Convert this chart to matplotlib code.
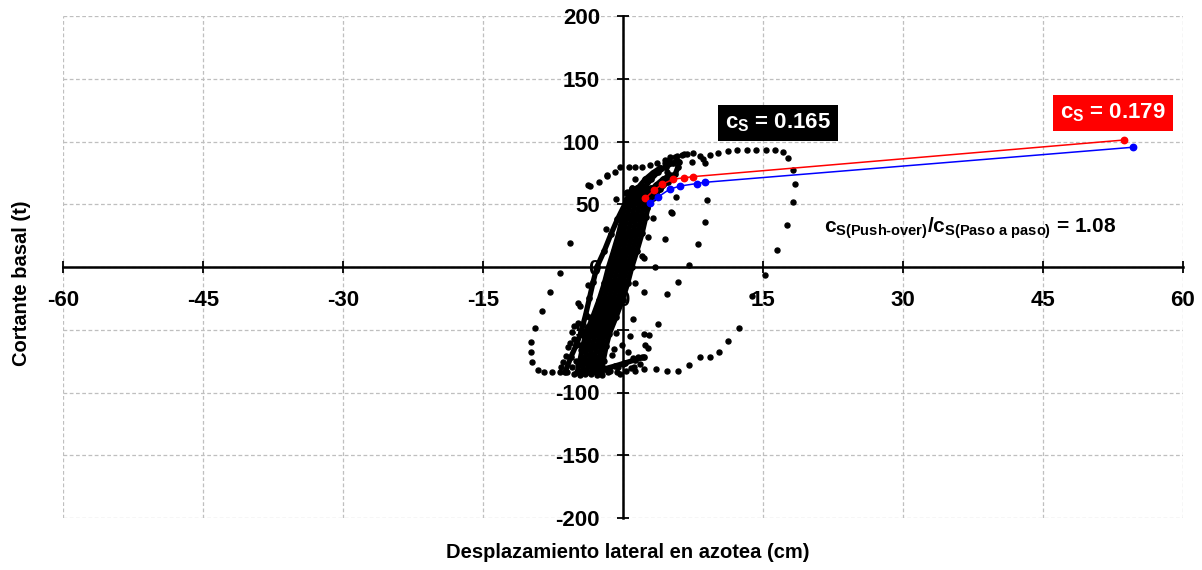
import matplotlib
matplotlib.use("Agg")
import matplotlib.pyplot as plt

plt.rcParams["font.family"] = ["Liberation Sans", "DejaVu Sans"]
plt.rcParams["axes.unicode_minus"] = False
plt.rcParams["mathtext.fontset"] = "custom"
plt.rcParams["mathtext.rm"] = "Liberation Sans:bold"
plt.rcParams["mathtext.it"] = "Liberation Sans:bold"
plt.rcParams["mathtext.bf"] = "Liberation Sans:bold"

# sparse dots of the step-by-step response (cm, t)
outer_x = [-9.1, -8.5, -7.6, -6.8, -9.7, -9.9, -9.9, -9.4, -8.7, -7.8, -6.7, -5.7,
           -3.5, -2.6, -1.75, -0.9, -0.3, 0.6, 1.3, 2.0, 2.9, 3.6, 4.5, 5.0, 5.75,
           6.5, 7.5, 8.25, 8.6, 9.3, 10.2, 11.3, 12.25, 13.3, 14.3, 15.3, 16.3,
           17.1, 17.7, 18.2, 18.4, 18.2, 17.6, 16.5, 15.2, 13.8, 12.4, 11.25,
           10.3, 9.3, 8.25, 7.1, 5.9, 4.7, 3.5, 2.25, 1.2]
outer_y = [-82, -83.7, -84, -84, -76, -67.5, -59.5, -49, -35, -19.7, -5, 18.9,
           64.5, 68, 72.5, 76, 79.4, 79.4, 80, 80, 81.3, 82.6, 85, 87.4, 88.4,
           90, 90.6, 88.4, 85.8, 89, 91, 92.4, 93.5, 93.5, 93.5, 93.5, 93,
           91.4, 86.6, 77.3, 66, 51.5, 33.7, 13.5, -6.4, -23, -48.6, -58.7,
           -68, -72, -72, -78, -83, -82.6, -81, -81, -80]

inner_x = [9.0, 8.75, 8.0, 7.07, 5.9, 4.7, 3.7, 2.8, 2.4, 1.64,
           5.7, 5.2, 4.5, 3.4, 2.25, 1.1,
           8.8, 7.4, 6.9, 6.3, 5.6, 4.9, 4.5, 4.1, 4.7, 5.4,
           -0.7, 0.3, 1.3, 2.7, 2.0, 3.25, 2.2, 0.4, 1.3, -1.85, -1.75, -3.7,
           2.7, 2.0, 0.86, 0.15, 5.1]
inner_y = [53, 36, 18, 1.6, -11.7, -21.5, -45.4, -54, -62, -72,
           56, 43.3, 22, 0.3, -20, -41.7,
           82.6, 84, 90, 89, 88, 85, 82.6, 78.6, 76, 73.3,
           54, 59.2, 70, 24, 8.8, 38.8, 7, 59.5, -13, 30, 73, 65,
           -64.8, -71.5, -80.2, -76.8, 44]

low_x = [-4.07, -2.8, -1.4, 0.0, 1.1, 1.3, -0.14, 2.2, -0.7, -5.7, -6.1, -6.6,
         -6.0, -5.2, -4.6, -3.7, 0.5, -0.5, -3.2, -4.5, -2.0, -1.0, 1.8, 0.8,
         -5.0, -3.5, -5.5, -5.0, -4.6, -4.2, -3.9, -3.6, -4.8, -5.5, -3.0,
         -2.3, -1.2, -0.6, -5.2, -4.6, -3.4, -2.2, -1.6, -0.3, 0.3, -4.8,
         -4.8, -6.4, -5.9, -5.3]
low_y = [-85.5, -86, -83, -77, -72.8, -83, -62, -53.6, -52.8, -60.8, -70.7,
         -79.4, -84, -46.7, -30.8, -14.3, -68, -80, -78, -66, -75, -65, -77,
         -55, -75, -70, -52, -58, -62, -55, -48, -40, -78, -80, -82, -79, -70,
         -84, -85, -86, -85, -86, -84, -85, -83, -29, -45, -76, -64, -57]

# dense core of small cycles, traced as paths
stripe_x = [-6.2, -5.6, -5.0, -4.5, -4.0, -3.6, -3.2, -2.8, -2.0, -1.3, -0.6, 0.2]
stripe_y = [-84, -72, -62, -52, -38, -25, -12, 0, 13, 26, 38, 50]
band_y = [-84, -74, -63, -53, -40, -26, -13, 0, 13, 27, 40, 53, 63]
band_a = [-4.9, -4.6, -4.3, -3.95, -3.25, -2.55, -2.0, -1.55, -1.0, -0.45, -0.05, 0.35, 1.0]
band_b = [-4.4, -4.1, -3.8, -3.45, -2.75, -2.05, -1.5, -1.05, -0.5, 0.05, 0.45, 0.85, 1.5]
band_c = [-3.9, -3.6, -3.3, -2.95, -2.25, -1.55, -1.0, -0.55, 0.0, 0.55, 0.95, 1.35, 2.0]
band_d = [-3.4, -3.1, -2.8, -2.45, -1.75, -1.05, -0.5, -0.05, 0.5, 1.05, 1.45, 1.85, 2.5]
band_e = [-2.9, -2.6, -2.3, -1.95, -1.25, -0.55, 0.0, 0.45, 1.0, 1.55, 1.95, 2.35, 3.0]
band_f = [-2.4, -2.1, -1.8, -1.45, -0.75, -0.05, 0.5, 0.95, 1.5, 2.05, 2.45, 2.85, 3.5]
top1_x = [1.65, 2.3, 3.0, 3.8, 4.6, 5.4, 6.0]
top1_y = [53, 63, 70, 76, 80, 83, 84]
top2_x = [2.2, 2.8, 3.5, 4.3, 5.0]
top2_y = [53, 60, 65, 70, 73]
top3_x = [1.0, 1.6, 2.4, 3.2, 4.0]
top3_y = [55, 63, 70, 75, 79]
top4_x = [5.9, 5.6, 4.8, 4.0, 3.2, 2.6]
top4_y = [80, 74, 68, 62, 55, 47]
foot_x = [-1.9, -0.9, 0.2, 1.3, 2.2]
foot_y = [-81, -79, -76.5, -74, -72]

core_x = [stripe_x, band_a, band_b, band_c, band_d, band_e, band_f,
          top1_x, top2_x, top3_x, top4_x, foot_x]
core_y = [stripe_y, band_y, band_y, band_y, band_y, band_y, band_y,
          top1_y, top2_y, top3_y, top4_y, foot_y]

# push-over curves
red_x = [2.4, 3.3, 4.2, 5.4, 6.5, 7.5, 53.7]
red_y = [55, 61, 66, 70, 71, 72, 101.2]
blue_x = [2.9, 3.8, 5.0, 6.1, 7.9, 8.8, 54.6]
blue_y = [51, 56, 62, 64.5, 66.5, 67.5, 95.4]

xticks = [-60, -45, -30, -15, 0, 15, 30, 45, 60]
yticks = [-200, -150, -100, -50, 0, 50, 100, 150, 200]

fig = plt.figure(figsize=(12.02, 5.70), dpi=100)
ax = fig.add_axes([63 / 1202, 1 - 518 / 570, 1120 / 1202, 502 / 570])

ax.set_xlim(-60, 60)
ax.set_ylim(-200, 200)
ax.set_xticks(xticks)
ax.set_yticks(yticks)
ax.grid(True, color="#bfbfbf", linestyle=(0, (3, 2)), linewidth=0.9)
for gl in ax.get_xgridlines() + ax.get_ygridlines():
    gl.set_clip_on(False)

for side in ["top", "right"]:
    ax.spines[side].set_visible(False)
ax.spines["left"].set_position(("data", 0))
ax.spines["bottom"].set_position(("data", 0))
ax.spines["left"].set_linewidth(1.8)
ax.spines["bottom"].set_linewidth(1.8)
ax.tick_params(direction="inout", length=9, width=1.3, labelsize=16, pad=12)
for lab in ax.get_xticklabels() + ax.get_yticklabels():
    lab.set_fontweight("bold")

for cx, cy in zip(core_x, core_y):
    ax.plot(cx, cy, "-o", color="black", lw=3.8, ms=3.8, solid_capstyle="round",
            solid_joinstyle="round", zorder=3)
ax.plot(outer_x, outer_y, "o", color="black", ms=3.6, zorder=3)
ax.plot(inner_x, inner_y, "o", color="black", ms=3.6, zorder=3)
ax.plot(low_x, low_y, "o", color="black", ms=3.6, zorder=3)

ax.plot(red_x, red_y, "-o", color="red", lw=1.1, ms=4.6, zorder=4)
ax.plot(blue_x, blue_y, "-o", color="blue", lw=1.1, ms=4.6, zorder=4)

ax.text(16.6, 114.7, r"$c_S$ = 0.165", color="white", fontsize=16,
        fontweight="bold", ha="center", va="center",
        bbox=dict(facecolor="black", edgecolor="none", pad=5))
ax.text(52.5, 122.7, r"$c_S$ = 0.179", color="white", fontsize=16,
        fontweight="bold", ha="center", va="center",
        bbox=dict(facecolor="red", edgecolor="none", pad=5))
ax.text(37.2, 31, r"$c_{S(Push\text{-}over)}$/$c_{S(Paso\ a\ paso)}$ = 1.08",
        color="black", fontsize=15, fontweight="bold", ha="center", va="center")

fig.text(628 / 1202, 1 - 552 / 570, "Desplazamiento lateral en azotea (cm)",
         fontsize=14.5, fontweight="bold", ha="center", va="center")
fig.text(22 / 1202, 1 - 283 / 570, "Cortante basal (t)", fontsize=14.5,
         fontweight="bold", ha="center", va="center", rotation=90)

fig.savefig("out.png", dpi=100)
